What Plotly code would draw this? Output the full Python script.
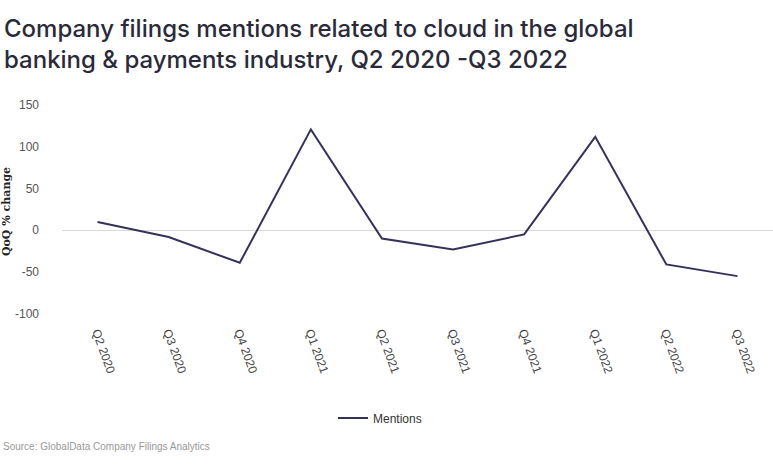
import plotly.graph_objects as go

quarters = ["Q2 2020", "Q3 2020", "Q4 2020", "Q1 2021", "Q2 2021",
            "Q3 2021", "Q4 2021", "Q1 2022", "Q2 2022", "Q3 2022"]
mentions = [10, -8, -39, 121, -10, -23, -5, 112, -41, -55]
y_ticks = [-100, -50, 0, 50, 100, 150]
y_tick_labels = ["-100", "-50", "0", "50", "100", "150"]

L, R, T, B = 62, 0, 101, 147
PW, PH = 773 - L - R, 469 - T - B

def px_x(px):
    return (px - L) / PW

def px_y(py):
    return (469 - B - py) / PH

fig = go.Figure()
fig.add_trace(go.Scatter(
    x=quarters, y=mentions, mode="lines", name="Mentions",
    line=dict(color="#35325a", width=2),
))

fig.update_layout(
    width=773, height=469,
    paper_bgcolor="white", plot_bgcolor="white",
    margin=dict(l=L, r=R, t=T, b=B, autoexpand=False),
    font=dict(family="Liberation Sans", size=12, color="#333333"),
    showlegend=True,
    legend=dict(orientation="h", x=px_x(380), xanchor="center", y=px_y(418), yanchor="middle",
                font=dict(size=12, color="#333333")),
    xaxis=dict(
        tickangle=70, showgrid=False, showline=False, ticks="",
        range=[-0.5, 9.5], automargin=False,
        tickfont=dict(family="Liberation Sans", size=12, color="#444444"),
    ),
    yaxis=dict(
        range=[-110, 155], tickvals=y_ticks, ticktext=y_tick_labels,
        showgrid=False, automargin=False,
        zeroline=True, zerolinecolor="#d9d9d9", zerolinewidth=1,
        showline=False, ticks="", ticklabelstandoff=22,
        tickfont=dict(family="Liberation Sans", size=12, color="#555555"),
        title=dict(text="<b>QoQ % change</b>", standoff=10,
                   font=dict(family="DejaVu Serif", size=11, color="#222222")),
    ),
    annotations=[
        dict(
            text="Company filings mentions related to cloud in the global<br>banking &amp; payments industry, Q2 2020 -Q3 2022",
            xref="paper", yref="paper", x=px_x(2), y=px_y(12), xanchor="left", yanchor="top",
            align="left", showarrow=False,
            font=dict(family="Inter", size=24, color="#2a2a3a", weight=500),
        ),
        dict(
            text="Source: GlobalData Company Filings Analytics",
            xref="paper", yref="paper", x=px_x(1), y=px_y(446), xanchor="left", yanchor="middle",
            showarrow=False, font=dict(size=10, color="#999999"),
        ),
    ],
)

fig.write_html("out.html", config={"displayModeBar": False},
               post_script="document.body.style.margin='0px';")
